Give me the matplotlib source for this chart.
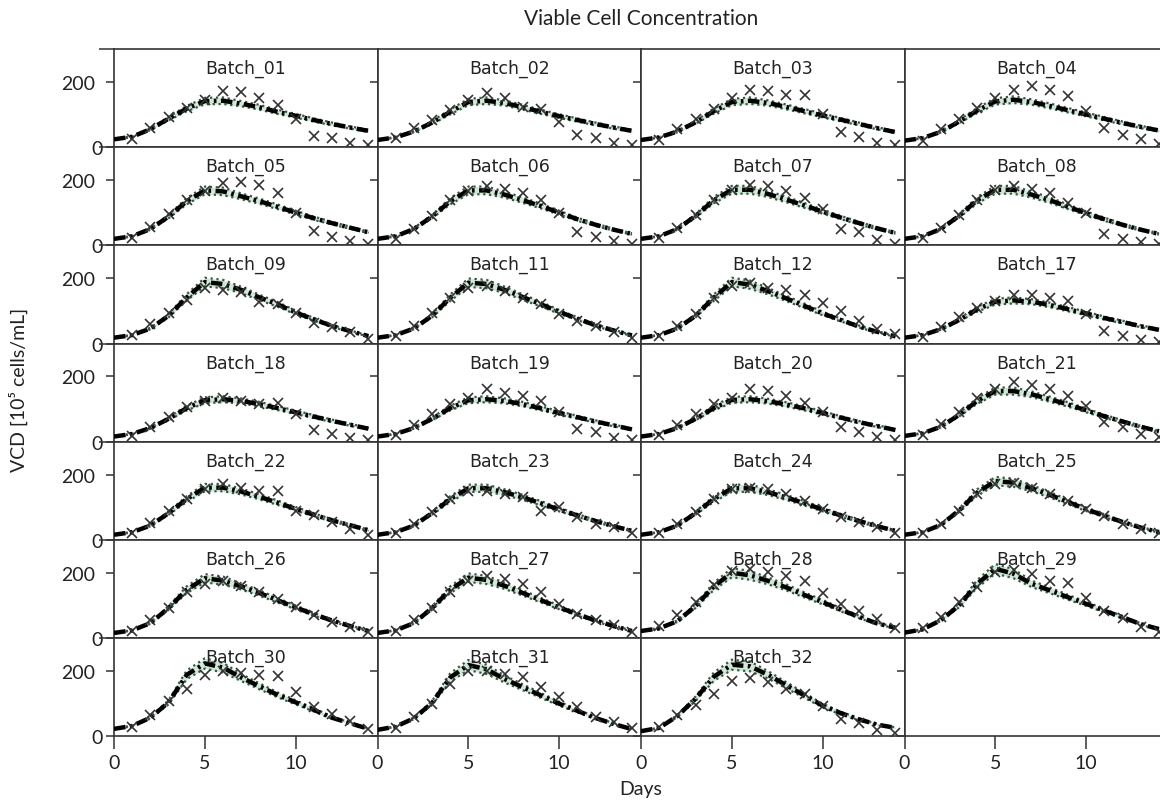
import matplotlib.pyplot as plt
import numpy as np

# batches shown in the grid (row by row)
BATCHES = ['Batch_01', 'Batch_02', 'Batch_03', 'Batch_04',
           'Batch_05', 'Batch_06', 'Batch_07', 'Batch_08',
           'Batch_09', 'Batch_11', 'Batch_12', 'Batch_17',
           'Batch_18', 'Batch_19', 'Batch_20', 'Batch_21',
           'Batch_22', 'Batch_23', 'Batch_24', 'Batch_25',
           'Batch_26', 'Batch_27', 'Batch_28', 'Batch_29',
           'Batch_30', 'Batch_31', 'Batch_32']

DAYS_MODEL = [0, 1, 2, 3, 4, 5, 6, 7, 8, 9, 10, 11, 12, 13, 14]
DAYS_OBS = [1, 2, 3, 4, 5, 6, 7, 8, 9, 10, 11, 12, 13, 14]

# model prediction, VCD [1e5 cells/mL], days 0..14
MODEL_VCD = [
    [24, 32, 55, 87, 118, 141, 142, 133, 122, 108, 96, 83, 71, 60, 50],
    [22, 30, 48, 75, 108, 138, 142, 135, 122, 108, 95, 83, 71, 60, 50],
    [22, 30, 48, 76, 110, 138, 142, 135, 123, 110, 97, 84, 71, 58, 46],
    [20, 28, 47, 78, 112, 140, 145, 138, 126, 113, 100, 87, 74, 62, 51],
    [20, 28, 50, 88, 135, 168, 165, 150, 135, 118, 100, 83, 68, 54, 40],
    [20, 28, 50, 88, 135, 168, 168, 155, 138, 120, 100, 80, 63, 48, 35],
    [20, 28, 50, 90, 138, 170, 170, 157, 140, 122, 103, 85, 68, 52, 38],
    [20, 28, 50, 90, 138, 170, 170, 155, 138, 118, 98, 80, 63, 48, 35],
    [18, 26, 46, 85, 141, 188, 182, 164, 141, 120, 95, 74, 54, 38, 23],
    [18, 26, 46, 85, 140, 186, 182, 164, 142, 120, 97, 76, 56, 40, 25],
    [18, 26, 46, 85, 140, 188, 180, 160, 138, 115, 92, 72, 52, 36, 22],
    [18, 26, 44, 72, 105, 128, 132, 128, 118, 105, 92, 78, 66, 53, 42],
    [16, 24, 42, 70, 103, 127, 130, 125, 115, 103, 90, 77, 64, 52, 40],
    [16, 24, 42, 70, 103, 127, 130, 125, 115, 102, 88, 75, 62, 50, 38],
    [16, 24, 42, 70, 103, 128, 130, 124, 114, 102, 88, 74, 60, 48, 36],
    [18, 26, 46, 82, 125, 155, 155, 145, 130, 114, 96, 78, 62, 46, 32],
    [16, 24, 44, 82, 125, 160, 160, 148, 132, 114, 95, 77, 60, 45, 30],
    [16, 24, 44, 82, 125, 158, 158, 146, 130, 112, 93, 75, 58, 42, 28],
    [16, 24, 44, 82, 125, 158, 158, 146, 130, 112, 93, 75, 58, 42, 28],
    [16, 24, 46, 90, 145, 180, 175, 158, 138, 116, 94, 74, 55, 38, 24],
    [16, 24, 46, 92, 148, 183, 176, 158, 138, 116, 94, 73, 54, 37, 22],
    [16, 24, 46, 92, 148, 185, 178, 160, 138, 116, 94, 73, 54, 37, 22],
    [22, 30, 52, 98, 158, 200, 192, 175, 155, 132, 110, 87, 65, 45, 32],
    [17, 27, 55, 100, 166, 212, 197, 166, 146, 125, 105, 84, 64, 43, 28],
    [23, 32, 57, 104, 188, 223, 210, 180, 153, 127, 104, 81, 57, 40, 23],
    [20, 30, 55, 102, 180, 218, 205, 175, 150, 125, 100, 78, 56, 38, 22],
    [16, 26, 62, 115, 182, 219, 214, 188, 156, 125, 94, 71, 52, 36, 26],
]

# measured VCD, days 1..14
OBS_VCD = [
    [25, 60, 92, 120, 145, 173, 168, 150, 130, 87, 35, 29, 12, 8],
    [27, 60, 84, 115, 145, 165, 150, 123, 117, 78, 37, 27, 12, 8],
    [22, 55, 85, 118, 150, 175, 172, 160, 158, 100, 45, 30, 12, 6],
    [20, 55, 85, 120, 150, 174, 187, 176, 155, 110, 58, 36, 24, 10],
    [22, 55, 95, 140, 165, 190, 195, 185, 160, 100, 45, 25, 12, 5],
    [20, 50, 90, 140, 165, 180, 172, 160, 140, 100, 40, 25, 12, 5],
    [22, 52, 92, 140, 170, 185, 180, 165, 145, 110, 50, 40, 15, 5],
    [22, 52, 92, 140, 168, 180, 172, 160, 130, 100, 35, 20, 10, 5],
    [26, 59, 95, 133, 169, 164, 157, 126, 120, 95, 64, 51, 36, 15],
    [22, 55, 95, 140, 170, 175, 160, 140, 120, 90, 70, 55, 35, 18],
    [22, 55, 90, 140, 175, 185, 170, 165, 150, 125, 100, 70, 45, 30],
    [20, 50, 80, 110, 130, 150, 148, 140, 130, 90, 40, 22, 10, 5],
    [18, 45, 75, 105, 125, 135, 125, 115, 120, 85, 35, 25, 12, 5],
    [20, 50, 85, 115, 135, 160, 150, 140, 125, 90, 40, 30, 12, 5],
    [20, 50, 85, 115, 135, 160, 155, 140, 120, 90, 45, 30, 15, 5],
    [22, 55, 92, 135, 160, 182, 175, 160, 140, 110, 60, 45, 25, 15],
    [20, 52, 88, 125, 155, 170, 160, 150, 150, 90, 75, 55, 35, 15],
    [20, 50, 85, 125, 150, 150, 140, 130, 90, 100, 70, 50, 40, 20],
    [20, 50, 85, 125, 155, 160, 155, 140, 120, 95, 70, 55, 40, 20],
    [20, 50, 90, 140, 170, 175, 160, 140, 120, 95, 72, 50, 35, 20],
    [22, 55, 92, 140, 165, 175, 160, 140, 120, 95, 70, 50, 35, 18],
    [22, 55, 92, 140, 175, 190, 180, 165, 140, 105, 75, 55, 40, 20],
    [38, 70, 111, 161, 205, 210, 202, 190, 176, 139, 103, 83, 58, 32],
    [31, 66, 110, 156, 202, 209, 197, 176, 169, 123, 84, 62, 35, 20],
    [28, 64, 109, 144, 188, 200, 195, 188, 183, 136, 91, 69, 48, 22],
    [25, 60, 100, 160, 200, 200, 190, 180, 150, 120, 90, 60, 45, 25],
    [28, 65, 97, 130, 170, 177, 165, 146, 130, 94, 52, 40, 21, 10],
]

# relative half width of the prediction band, days 0..14
BAND_REL = [0.04, 0.04, 0.05, 0.06, 0.07, 0.07, 0.07, 0.06, 0.06, 0.06, 0.06, 0.06, 0.06, 0.06, 0.06]

FONT = ['Lato', 'DejaVu Sans']
plt.rcParams['font.family'] = FONT

fig = plt.figure(figsize=(11.6, 8.04), dpi=100)

# grid geometry in pixels (last column runs past the right edge)
W, H = 1160, 804
left, top = 114 / W, 1 - 50 / H
cw, rh = 263.5 / W, 98.2 / H
nrows, ncols = 7, 4

days_m = np.array(DAYS_MODEL)
band = np.array(BAND_REL)

for i in range(nrows * ncols):
    r, c = divmod(i, ncols)
    ax = fig.add_axes([left + c * cw, top - (r + 1) * rh, cw, rh])
    ax.set_xlim(0, 14.5)
    ax.set_ylim(0, 300)
    for s in ax.spines.values():
        s.set_color('#333333')
        s.set_linewidth(1.2)

    if i < len(BATCHES):
        m = np.array(MODEL_VCD[i], dtype=float)
        lo, hi = m * (1 - band), m * (1 + band)
        ax.fill_between(days_m, lo, hi, color='#cfe9d6', lw=0, zorder=1)
        ax.plot(days_m, lo, ls=':', color='#3b5644', lw=1.6, zorder=2)
        ax.plot(days_m, hi, ls=':', color='#3b5644', lw=1.6, zorder=2)
        ax.plot(days_m, m, color='black', lw=3.2, dashes=(2.6, 1.0, 0.6, 1.0), zorder=3)
        ax.plot(DAYS_OBS, OBS_VCD[i], 'x', color='#333333', ms=7, mew=1.2, zorder=4)
        ax.text(0.5, 0.9, BATCHES[i], transform=ax.transAxes, ha='center', va='top',
                fontsize=12.5, family='DejaVu Sans', color='#222222', zorder=5)

    ax.set_yticks([0, 200])
    ax.tick_params(axis='y', length=5.5, width=1.1, color='#333333', pad=8,
                   labelsize=14, labelcolor='#222222', labelleft=(c == 0))
    bottom_row = (r == nrows - 1)
    ax.set_xticks([0, 5, 10])
    ax.tick_params(axis='x', length=9, width=1.1, color='#333333', pad=4,
                   labelsize=14, labelcolor='#222222',
                   bottom=bottom_row, labelbottom=bottom_row)
    if c == 0:
        ax.set_yticks([300], minor=True)
        ax.tick_params(axis='y', which='minor', length=11, width=1.1, color='#333333')
        ax.yaxis.get_major_ticks()[0].tick1line.set_markersize(11)
        ax.yaxis.get_major_ticks()[0].set_pad(2.5)

fig.text(left + 2 * cw, 1 - 19 / H, 'Viable Cell Concentration', ha='center', va='center',
         fontsize=15, color='#222222')
fig.text(left + 2 * cw, 1 - 790 / H, 'Days', ha='center', va='center',
         fontsize=14, color='#222222')
fig.text(18 / W, 1 - 390 / H, 'VCD [10\u2075 cells/mL]', ha='center', va='center',
         rotation=90, fontsize=14, color='#222222')

fig.savefig('out.png', dpi=100)
